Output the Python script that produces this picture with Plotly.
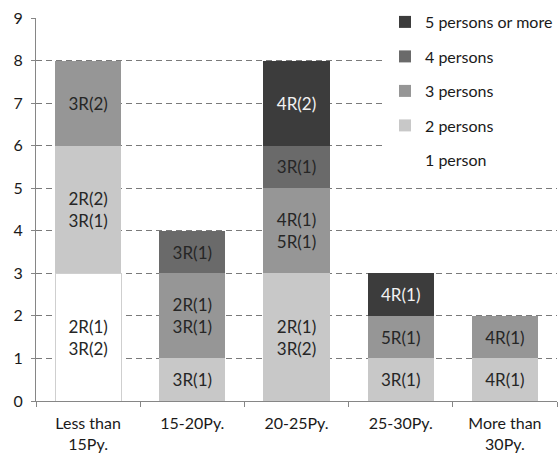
import plotly.graph_objects as go

# Floor-area bands (tsubo) and household-size counts per band
categories = ["Less than<br>15Py.", "15-20Py.", "20-25Py.", "25-30Py.", "More than<br>30Py."]

one_person = [3, None, None, None, None]
two_persons = [3, 1, 3, 1, 1]
three_persons = [2, 2, 2, 1, 1]
four_persons = [None, 1, 1, None, None]
five_plus = [None, None, 2, 1, None]

# Room-type breakdown written inside each segment
one_person_labels = ["2R(1)<br>3R(2)", "", "", "", ""]
two_persons_labels = ["2R(2)<br>3R(1)", "3R(1)", "2R(1)<br>3R(2)", "3R(1)", "4R(1)"]
three_persons_labels = ["3R(2)", "2R(1)<br>3R(1)", "4R(1)<br>5R(1)", "5R(1)", "4R(1)"]
four_persons_labels = ["", "3R(1)", "3R(1)", "", ""]
five_plus_labels = ["", "", "4R(2)", "4R(1)", ""]

FONT = "Lato"
DARK_TEXT = "#262626"

fig = go.Figure()


def add_series(name, values, labels, fill, text_color, rank, line_color=None, legend=True):
    fig.add_trace(go.Bar(
        x=categories,
        y=values,
        name=name,
        text=labels,
        textposition="inside",
        insidetextanchor="middle",
        textangle=0,
        constraintext="none",
        textfont=dict(family=FONT, size=17, color=text_color),
        marker=dict(color=fill,
                    line=dict(color=line_color or fill, width=1 if line_color else 0)),
        legendgroup="g%d" % rank,
        legendrank=rank,
        showlegend=legend,
        hoverinfo="skip",
    ))


# white segment carries a thin outline so it reads as a bar
add_series("1 person", one_person, one_person_labels, "#ffffff", DARK_TEXT, 5,
           line_color="#cfcfcf", legend=False)
# plain legend entry for the white series (no outline on the swatch)
fig.add_trace(go.Bar(x=[None], y=[None], name="1 person", legendgroup="g5", legendrank=5,
                     marker=dict(color="#ffffff", line=dict(width=0)), hoverinfo="skip"))
add_series("2 persons", two_persons, two_persons_labels, "#c8c8c8", DARK_TEXT, 4)
add_series("3 persons", three_persons, three_persons_labels, "#969696", DARK_TEXT, 3)
add_series("4 persons", four_persons, four_persons_labels, "#6a6a6a", DARK_TEXT, 2)
add_series("5 persons or more", five_plus, five_plus_labels, "#3c3c3c", "#f2f2f2", 1)

AXIS_GREY = "#868686"

fig.update_layout(
    width=558,
    height=453,
    margin=dict(l=36, r=1, t=18, b=52, autoexpand=False),
    barmode="stack",
    bargap=0.365,
    plot_bgcolor="#ffffff",
    paper_bgcolor="#ffffff",
    font=dict(family=FONT, size=16, color="#1a1a1a"),
    showlegend=True,
    legend=dict(
        x=(385 - 36) / 521,
        xanchor="left",
        y=1 + 13 / 383,
        yanchor="top",
        bgcolor="#ffffff",
        borderwidth=0,
        traceorder="grouped",
        tracegroupgap=10.7,
        font=dict(family=FONT, size=16, color="#1a1a1a"),
    ),
    xaxis=dict(
        type="category",
        range=[-0.5, 4.5],
        showgrid=False,
        showline=True,
        linecolor=AXIS_GREY,
        linewidth=1,
        ticks="outside",
        tickson="boundaries",
        ticklen=5,
        tickcolor=AXIS_GREY,
        ticklabelstandoff=8,
        tickfont=dict(family=FONT, size=16, color="#1a1a1a"),
    ),
    yaxis=dict(
        range=[0, 9],
        dtick=1,
        showgrid=True,
        gridcolor="#7a7a7a",
        gridwidth=1,
        griddash="6px,4px",
        zeroline=False,
        showline=True,
        linecolor=AXIS_GREY,
        linewidth=1,
        ticks="outside",
        ticklen=4,
        tickcolor=AXIS_GREY,
        ticklabelstandoff=5,
        tickfont=dict(family=FONT, size=16, color="#1a1a1a"),
    ),
)

fig.write_html("out.html")
